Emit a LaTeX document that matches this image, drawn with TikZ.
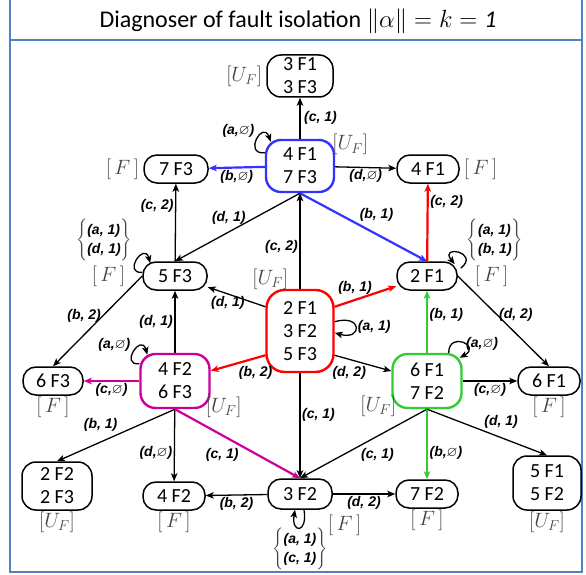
\documentclass[tikz,border=0pt]{standalone}
\usepackage{amsmath,amssymb}
\usepackage{fontspec}
\setmainfont{Carlito}
\newfontfamily\lblfont{Liberation Sans}
\usepackage{tikz}
\usetikzlibrary{arrows.meta, positioning, calc}
\definecolor{framebl}{RGB}{79,129,189}
\definecolor{dblue}{RGB}{51,51,255}
\definecolor{dred}{RGB}{255,0,0}
\definecolor{dmag}{RGB}{204,0,153}
\definecolor{dgreen}{RGB}{51,204,51}
\definecolor{tagcol}{RGB}{70,70,70}
\tikzset{
  state/.style={
    rectangle, rounded corners=13pt,
    draw=black, line width=1.5pt,
    minimum width=62pt, minimum height=28pt,
    inner sep=2pt, align=center,
    font=\fontsize{20}{23}\selectfont,
  },
  hl/.style={state, rounded corners=15pt, line width=2.4pt, draw=#1},
  arrow/.style={-{Stealth[length=8pt, width=6.5pt, inset=2pt]}, line width=1.3pt},
  carrow/.style={arrow, line width=2.2pt, draw=#1},
  lbl/.style={font=\lblfont\bfseries\itshape\fontsize{14}{16}\selectfont, inner sep=1.5pt},
  tag/.style={font=\fontsize{21}{23}\selectfont, text=tagcol, inner sep=1pt},
}
\newcommand{\Ftag}{$[\,F\,]$}
\newcommand{\UFtag}{$[U_F]$}
\newcommand{\evset}[2]{\color{tagcol}$\left\{\mbox{\color{black}\renewcommand{\arraystretch}{1.2}\begin{tabular}{@{}l@{}}#1\\#2\end{tabular}}\right\}$}

\begin{document}
\begin{tikzpicture}[x=1pt, y=-1pt]
  \useasboundingbox (0,0) rectangle (586,575);

  % frame and title
  \draw[framebl, line width=2pt] (10,-2) rectangle (582,40);
  \draw[framebl, line width=2pt] (10,40) rectangle (582,572);
  \node[font=\fontsize{24}{28}\selectfont] (title) at (298,21)
    {Diagnoser of fault isolation $\left\|\alpha\right\| = k = \mathit{1}$};

  % states, row by row
  \node[state, minimum width=66pt, minimum height=42pt, rounded corners=14pt] (top) at (300,76) {3 F1\\3 F3};
  \node[hl=dblue, minimum width=68pt, minimum height=52pt] (st4) at (300,166) {4 F1\\7 F3};
  \node[state, minimum width=64pt] (f73) at (176,169) {7 F3};
  \node[state] (f41) at (428,169) {4 F1};
  \node[state, minimum width=64pt] (f53) at (175,276) {5 F3};
  \node[state, minimum width=60pt] (f21) at (427,276) {2 F1};
  \node[hl=dred, rounded corners=18pt, minimum width=67pt, minimum height=82pt] (ini) at (300,331) {2 F1\\3 F2\\5 F3};
  \node[hl=dmag, minimum width=69pt, minimum height=54pt] (st42) at (175,381) {4 F2\\6 F3};
  \node[state, minimum width=60pt] (f63) at (53,381) {6 F3};
  \node[hl=dgreen, minimum width=69pt, minimum height=54pt] (st61) at (427,381) {6 F1\\7 F2};
  \node[state] (f61) at (549,381) {6 F1};
  \node[state, minimum width=70pt, minimum height=48pt, rounded corners=14pt] (st22) at (57,486) {2 F2\\2 F3};
  \node[state] (f42) at (174,496) {4 F2};
  \node[state, minimum width=64pt, minimum height=30pt] (f32) at (300,494) {3 F2};
  \node[state] (f72) at (427,494) {7 F2};
  \node[state, minimum width=68pt, minimum height=54pt, rounded corners=14pt] (st51) at (547,483) {5 F1\\5 F2};

  % tags
  \node[tag, left=3pt of top] (ttop) {\UFtag};
  \node[tag, right=-4pt of st4.north east, yshift=-6pt] (tst4) {\UFtag};
  \node[tag, left=3pt of f73] (tf73) {\Ftag};
  \node[tag, right=3pt of f41] (tf41) {\Ftag};
  \node[tag, left=16pt of f53] (tf53) {\Ftag};
  \node[tag, right=16pt of f21] (tf21) {\Ftag};
  \node[tag, above=-2pt of ini.north west, xshift=5pt] (tini) {\UFtag};
  \node[tag, right=-6pt of st42.south east, yshift=2pt] (tst42) {\UFtag};
  \node[tag, left=-6pt of st61.south west, yshift=3pt] (tst61) {\UFtag};
  \node[tag, below=0pt of f63] (tf63) {\Ftag};
  \node[tag, below=0pt of f61] (tf61) {\Ftag};
  \node[tag, below=0pt of st22] (tst22) {\UFtag};
  \node[tag, below=0pt of f42] (tf42) {\Ftag};
  \node[tag, below right=4pt and -6pt of f32.south east] (tf32) {\Ftag};
  \node[tag, below=0pt of f72] (tf72) {\Ftag};
  \node[tag, below=0pt of st51] (tst51) {\UFtag};

  % event sets of the self-loops
  \node[lbl, inner sep=0pt, above left=0pt and 10pt of f53.north west] (e53) {\evset{(a, 1)}{(d, 1)}};
  \node[lbl, inner sep=0pt, above right=0pt and 9pt of f21.north east] (e21) {\evset{(a, 1)}{(b, 1)}};
  \node[lbl, inner sep=0pt, below=18pt of f32] (e32) {\evset{(a, 1)}{(c, 1)}};

  % out of 4 F1 / 7 F3
  \draw[arrow] (st4) -- node[lbl, right=2pt] {(c, 1)} (top);
  \draw[arrow] ($(st4.north west)+(0,14)$) .. controls +(-22,2) and +(-8,-22) ..
    node[lbl, above left] {(a,$\varnothing$)} ($(st4.north west)+(6,3)$);
  \draw[carrow=dblue] (st4) -- node[lbl, below] {(b,$\varnothing$)} (f73);
  \draw[arrow] (st4) -- node[lbl, below] {(d,$\varnothing$)} (f41);
  \draw[arrow] (st4.south) -- node[lbl, above=5pt, pos=.57] {(d, 1)} (f53.north);
  \draw[carrow=dblue] (st4.south) -- node[lbl, above right, pos=.45] {(b, 1)} (f21.north);

  % 5 F3 and 2 F1
  \draw[arrow] (f53) -- node[lbl, left, pos=.72] {(c, 2)} (f73);
  \draw[arrow] ($(f53.north west)+(0,11)$) .. controls +(-20,2) and +(-6,-22) .. ($(f53.north west)+(8,2)$);
  \draw[arrow] (f53.west) -- node[lbl, left, pos=.44] {(b, 2)} (f63.north);
  \draw[carrow=dred] (f21) -- node[lbl, right, pos=.77] {(c, 2)} (f41);
  \draw[arrow] ($(f21.north east)+(3,7)$) .. controls +(20,-16) and +(-16,-20) .. ($(f21.north east)+(-3,3)$);
  \draw[arrow] (f21.east) -- node[lbl, right, pos=.43] {(d, 2)} (f61.north);

  % out of 2 F1 / 3 F2 / 5 F3
  \draw[arrow] (ini) -- node[lbl, left, pos=.44] {(c, 2)} (st4);
  \draw[arrow] (ini.145) -- node[lbl, below, pos=.65] {(d, 1)} (f53);
  \draw[carrow=dred] (ini.35) -- node[lbl, above=3pt, pos=.33] {(b, 1)} (f21);
  \draw[arrow] (ini.15) .. controls +(28,-8) and +(28,8) .. node[lbl, right] {(a, 1)} (ini.-3);
  \draw[carrow=dred] (ini.215) -- node[lbl, below right, pos=.53] {(b, 2)} (st42);
  \draw[arrow] (ini.-35) -- node[lbl, below left, pos=.59] {(d, 2)} (st61);
  \draw[arrow] (ini) -- node[lbl, right, pos=.4] {(c, 1)} (f32);

  % out of 4 F2 / 6 F3
  \draw[arrow] (st42) -- node[lbl, left] {(d, 1)} (f53);
  \draw[arrow] ($(st42.north west)+(0,11)$) .. controls +(-20,2) and +(-6,-22) ..
    node[lbl, above left, pos=.45] {(a,$\varnothing$)} ($(st42.north west)+(8,2)$);
  \draw[carrow=dmag] (st42) -- node[lbl, below] {(c,$\varnothing$)} (f63);
  \draw[arrow] (st42.south) -- node[lbl, above left, pos=.47] {(b, 1)} (st22.north);
  \draw[arrow] (st42) -- node[lbl, left, pos=.6] {(d,$\varnothing$)} (f42);
  \draw[carrow=dmag] (st42.south) -- node[lbl, below left, pos=.53] {(c, 1)} (f32.north);

  % out of 6 F1 / 7 F2
  \draw[carrow=dgreen] (st61) -- node[lbl, right, pos=.61] {(b, 1)} (f21);
  \draw[arrow] ($(st61.north east)+(-14,0)$) .. controls +(0,-22) and +(22,-12) ..
    node[lbl, right, pos=.55] {(a,$\varnothing$)} ($(st61.north east)+(-3,5)$);
  \draw[arrow] (st61) -- node[lbl, below] {(c,$\varnothing$)} (f61);
  \draw[arrow] (st61.south) -- node[lbl, below right, pos=.535] {(c, 1)} (f32.north);
  \draw[carrow=dgreen] (st61) -- node[lbl, right, pos=.62] {(b,$\varnothing$)} (f72);
  \draw[arrow] (st61.south) -- node[lbl, above right, pos=.46] {(d, 1)} (st51.north);

  % out of 3 F2
  \draw[arrow] (f32) -- node[lbl, below] {(b, 2)} (f42);
  \draw[arrow] (f32) -- node[lbl, below] {(d, 2)} (f72);
  \draw[arrow] ($(f32.south)+(4,0)$) .. controls +(4,24) and +(-4,24) .. ($(f32.south)+(-5,0)$);

\end{tikzpicture}
\end{document}
